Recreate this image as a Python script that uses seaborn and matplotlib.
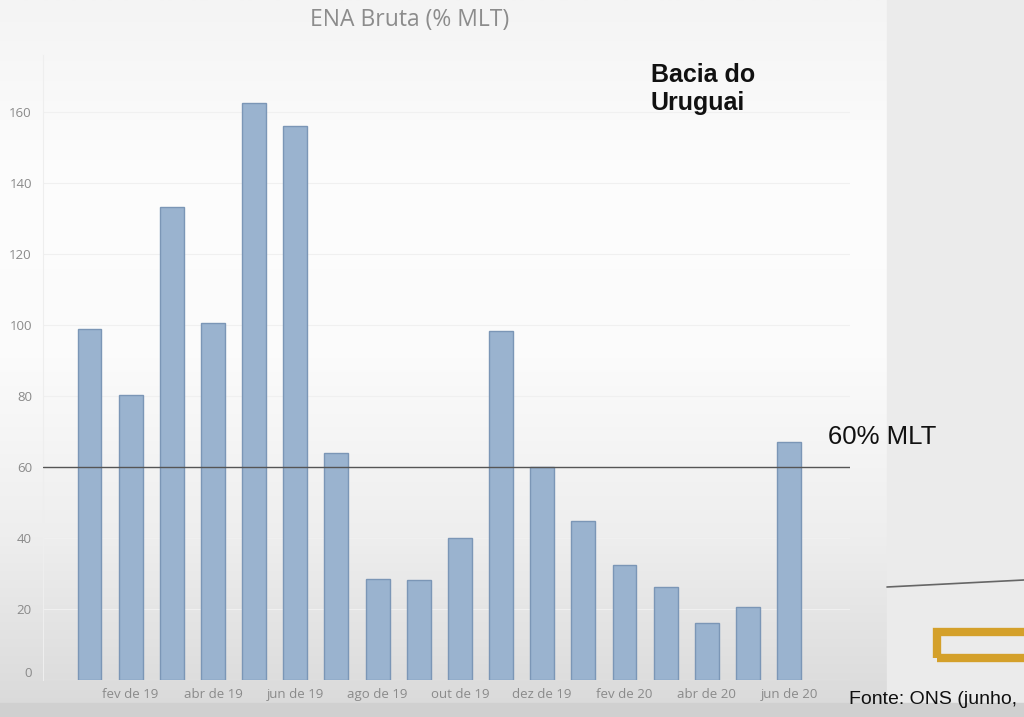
import numpy as np
import pandas as pd
import matplotlib
matplotlib.use("Agg")
import matplotlib.pyplot as plt
from matplotlib.patches import Rectangle
import seaborn as sns

months = ["jan de 19", "fev de 19", "mar de 19", "abr de 19", "mai de 19", "jun de 19",
          "jul de 19", "ago de 19", "set de 19", "out de 19", "nov de 19", "dez de 19",
          "jan de 20", "fev de 20", "mar de 20", "abr de 20", "mai de 20", "jun de 20"]
ena_pct_mlt = [98.9, 80.3, 133.2, 100.6, 162.6, 156.0,
               63.9, 28.4, 28.1, 39.9, 98.3, 60.0,
               44.8, 32.4, 26.1, 16.0, 20.5, 67.0]
shown_labels = ["", "fev de 19", "", "abr de 19", "", "jun de 19",
                "", "ago de 19", "", "out de 19", "", "dez de 19",
                "", "fev de 20", "", "abr de 20", "", "jun de 20"]
y_ticks = [0, 20, 40, 60, 80, 100, 120, 140, 160]
reference_level = 60

df = pd.DataFrame({"mes": months, "ena": ena_pct_mlt})

sns.set_theme(style="white")
plt.rcParams["font.family"] = ["Open Sans", "DejaVu Sans"]

fig = plt.figure(figsize=(10.24, 7.17), dpi=100)

# background (slide-like gradient)
bg = fig.add_axes([0, 0, 1, 1], zorder=-10)
grad = np.linspace(0, 1, 256).reshape(-1, 1)
bg.imshow(grad, aspect="auto", cmap=matplotlib.colors.LinearSegmentedColormap.from_list(
    "g", ["#f4f4f4", "#fdfdfd", "#fbfbfb", "#eeeeee", "#d9d9d9"]), extent=[0, 1, 0, 1],
    transform=bg.transAxes)
bg.add_patch(Rectangle((887 / 1024, 0), 1, 1, color="#ebebeb", transform=bg.transAxes))
bg.add_patch(Rectangle((0, 0), 1, 14 / 717, color="#d0d0d0", transform=bg.transAxes))
bg.set_axis_off()

ax = fig.add_axes([43 / 1024, 1 - 680 / 717, (850 - 43) / 1024, (680 - 55) / 717])
ax.patch.set_alpha(0)
sns.barplot(data=df, x="mes", y="ena", color="#9ab3cf", width=0.58,
            edgecolor="#7b96b6", linewidth=1.0, saturation=1, ax=ax)

ax.set_xlim(-1.13, 18.48)
ax.set_ylim(0, 176)
ax.set_yticks(y_ticks)
ax.set_yticklabels([str(v) for v in y_ticks], color="#8a8a8a", fontsize=9.5)
ax.set_xticks(range(len(months)))
ax.set_xticklabels(shown_labels, color="#8a8a8a", fontsize=9.5)
ax.tick_params(axis="both", length=0)
ax.tick_params(axis="x", pad=6)
ax.tick_params(axis="y", pad=8)
ax.get_yticklabels()[0].set_va("bottom")
ax.set_xlabel("")
ax.set_ylabel("")
ax.yaxis.grid(True, color="#f0f0f0", linewidth=0.8)
ax.set_axisbelow(True)
for s in ["top", "right", "bottom"]:
    ax.spines[s].set_visible(False)
ax.spines["left"].set_color("#eeeeee")
ax.spines["left"].set_linewidth(0.8)

ax.axhline(reference_level, color="#555555", linewidth=1.0, zorder=5)

fig.text(410 / 1024, 1 - 20 / 717, "ENA Bruta (% MLT)", ha="center", va="center",
         color="#8c8c8c", fontsize=16.5)
fig.text(651 / 1024, 1 - 89 / 717, "Bacia do\nUruguai", ha="left", va="center",
         color="#111111", fontsize=18, fontweight="bold", family=["Liberation Sans", "DejaVu Sans"],
         linespacing=1.2)
fig.text(828 / 1024, 1 - 437 / 717, f"{reference_level}% MLT", ha="left", va="center",
         color="#111111", fontsize=18.5, family=["Liberation Sans", "DejaVu Sans"])
fig.text(849 / 1024, 1 - 700 / 717, "Fonte: ONS (junho,", ha="left", va="center",
         color="#111111", fontsize=14, family=["Liberation Sans", "DejaVu Sans"])

# logo hint
bg.add_patch(Rectangle((937 / 1024, 1 - 658 / 717), 90 / 1024, 26 / 717, fill=False,
                       edgecolor="#d4a02a", linewidth=6, transform=bg.transAxes))
bg.plot([887 / 1024, 1], [1 - 587 / 717, 1 - 580 / 717], color="#666666", linewidth=1.2,
        transform=bg.transAxes)

fig.savefig("out.png", dpi=100)
